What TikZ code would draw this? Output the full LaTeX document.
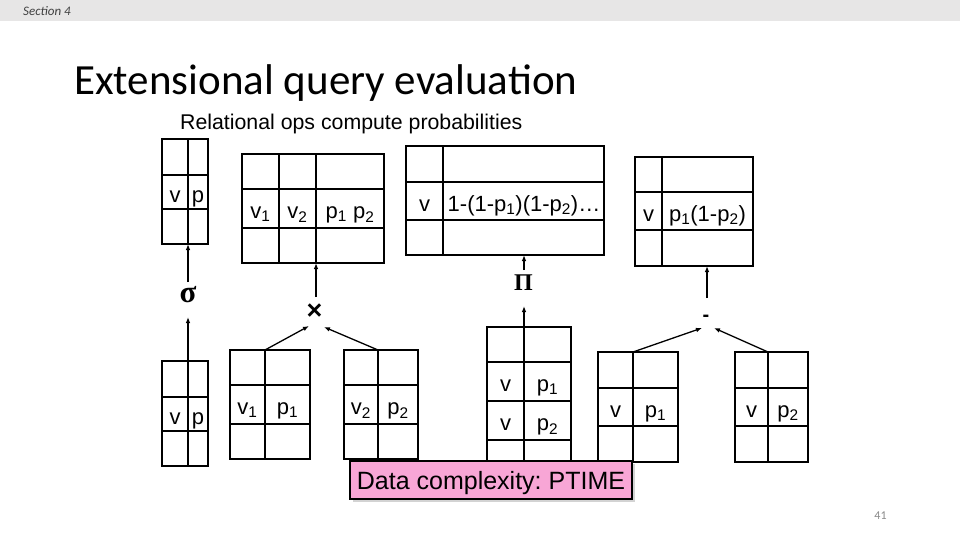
\documentclass[tikz,border=0pt]{standalone}
\usepackage{fontspec}
\setmainfont{Liberation Sans}
\newfontfamily\titlefont{Carlito}
\newfontfamily\grfont{Liberation Serif}
\usetikzlibrary{arrows.meta,shadows}
\definecolor{barGray}{HTML}{E7E6E6}
\definecolor{pinkBox}{HTML}{F8A6D6}
\definecolor{numGray}{HTML}{8A8A8A}
\definecolor{secGray}{HTML}{404040}
\tikzset{
  tblline/.style={line width=2.4pt, line join=miter},
  cell/.style={anchor=base, inner sep=0pt, font=\fontsize{22}{22}\selectfont},
  arr/.style={line width=1.3pt, -{Latex[length=6pt,width=4.6pt]}},
  opsym/.style={inner sep=0pt, anchor=center},
  pinkbox/.style={draw=black, line width=1.3pt, fill=pinkBox, inner sep=0pt,
     minimum width=282pt, minimum height=38pt, text height=18pt, text depth=0pt,
     font=\fontsize{25}{25}\selectfont,
     drop shadow={shadow xshift=2.5pt, shadow yshift=-3pt, opacity=0.35, fill=gray}},
}
\newcommand{\sub}[1]{\textsubscript{#1}}
\frenchspacing
\begin{document}
\begin{tikzpicture}[x=1pt,y=-1pt]
\useasboundingbox (0,0) rectangle (960,540);
\fill[barGray] (0,0) rectangle (960,21);
\node[anchor=base west, inner sep=0pt, text=secGray, font=\titlefont\itshape\fontsize{13}{13}\selectfont] (sec) at (23,15.5) {Section 4};
\node[anchor=base west, inner sep=0pt, font=\titlefont\fontsize{43}{43}\selectfont] (title) at (74,95) {Extensional query evaluation};
\node[anchor=base west, inner sep=0pt, font=\fontsize{21.3}{21.3}\selectfont] (subt) at (180,130) {Relational ops compute probabilities};
\node[anchor=base, inner sep=0pt, text=numGray, font=\titlefont\fontsize{12}{12}\selectfont] (pnum) at (880.5,519) {41};

% ---- top tables ----
% T1 sigma result
\draw[tblline] (162,139) rectangle (208,244);
\draw[tblline] (188,139)--(188,244) (162,175)--(208,175) (162,209)--(208,209);
\node[cell] (t1a) at (175,202) {v};
\node[cell] (t1b) at (198,202) {p};
% T2 product result
\draw[tblline] (242,154) rectangle (384,263);
\draw[tblline] (279,154)--(279,263) (316,154)--(316,263) (242,189)--(384,189) (242,228)--(384,228);
\node[cell] (t2a) at (260.5,218.5) {v\sub{1}};
\node[cell] (t2b) at (297.5,218.5) {v\sub{2}};
\node[cell] (t2c) at (350,218.5) {p\sub{1} p\sub{2}};
% T3 projection result
\draw[tblline] (406,146) rectangle (604,255);
\draw[tblline] (443,146)--(443,255) (406,182)--(604,182) (406,220)--(604,220);
\node[cell] (t3a) at (424.5,211) {v};
\node[cell] (t3b) at (524,211) {1-(1-p\sub{1})(1-p\sub{2})…};
% T4 difference result
\draw[tblline] (635,157) rectangle (753,266);
\draw[tblline] (662,157)--(662,266) (635,192)--(753,192) (635,230)--(753,230);
\node[cell] (t4a) at (648.5,221) {v};
\node[cell] (t4b) at (707.5,221) {p\sub{1}(1-p\sub{2})};

% ---- bottom tables ----
% B1
\draw[tblline] (162,361) rectangle (208,466);
\draw[tblline] (188,361)--(188,466) (162,397)--(208,397) (162,431)--(208,431);
\node[cell] (b1a) at (175,424) {v};
\node[cell] (b1b) at (198,424) {p};
% B2
\draw[tblline] (230,350) rectangle (310,459);
\draw[tblline] (265,350)--(265,459) (230,385)--(310,385) (230,424)--(310,424);
\node[cell] (b2a) at (247.5,414.5) {v\sub{1}};
\node[cell] (b2b) at (287.5,414.5) {p\sub{1}};
% B3
\draw[tblline] (344,350) rectangle (418,459);
\draw[tblline] (378,350)--(378,459) (344,385)--(418,385) (344,424)--(418,424);
\node[cell] (b3a) at (361,414.5) {v\sub{2}};
\node[cell] (b3b) at (398,414.5) {p\sub{2}};
% B4
\draw[tblline] (487,327) rectangle (571,478);
\draw[tblline] (524,327)--(524,478) (487,362)--(571,362) (487,401)--(571,401) (487,440)--(571,440);
\node[cell] (b4a) at (505.5,391.5) {v};
\node[cell] (b4b) at (547.5,391.5) {p\sub{1}};
\node[cell] (b4c) at (505.5,430.5) {v};
\node[cell] (b4d) at (547.5,430.5) {p\sub{2}};
% B5
\draw[tblline] (598,352) rectangle (678,462);
\draw[tblline] (633,352)--(633,462) (598,388)--(678,388) (598,426)--(678,426);
\node[cell] (b5a) at (615.5,417) {v};
\node[cell] (b5b) at (655.5,417) {p\sub{1}};
% B6
\draw[tblline] (735,352) rectangle (808,462);
\draw[tblline] (768,352)--(768,462) (735,388)--(808,388) (735,426)--(808,426);
\node[cell] (b6a) at (751.5,417) {v};
\node[cell] (b6b) at (788,417) {p\sub{2}};

% ---- operators ----
\node[opsym, font=\grfont\bfseries\fontsize{31}{31}\selectfont] (sig) at (188,295) {σ};
\node[opsym, font=\bfseries\fontsize{27}{27}\selectfont] (times) at (314.5,311.7) {×};
\node[opsym, font=\grfont\bfseries\fontsize{24}{24}\selectfont] (proj) at (523.5,282.5) {Π};
\node[opsym, font=\bfseries\fontsize{20}{20}\selectfont] (minus) at (706,318.3) {-};

% ---- arrow end points ----
\coordinate (b1top) at (188,361);
\coordinate (sigLo) at (188,317);
\coordinate (sigHi) at (188,282);
\coordinate (t1bot) at (188,244);
\coordinate (b2top) at (265,350);
\coordinate (b3top) at (378,350);
\coordinate (timesL) at (309,326);
\coordinate (timesR) at (324,327);
\coordinate (timesHi) at (316,297);
\coordinate (t2bot) at (316,263);
\coordinate (b4top) at (524,327);
\coordinate (projLo) at (524,306);
\coordinate (projHi) at (524,270);
\coordinate (t3bot) at (524,255);
\coordinate (b5top) at (633,352);
\coordinate (b6top) at (768,352);
\coordinate (minusL) at (702,328);
\coordinate (minusR) at (714,328);
\coordinate (minusHi) at (707,298);
\coordinate (t4bot) at (707,266);

\draw[arr] (b1top) -- (sigLo);
\draw[arr] (sigHi) -- (t1bot);
\draw[arr] (b2top) -- (timesL);
\draw[arr] (b3top) -- (timesR);
\draw[arr] (timesHi) -- (t2bot);
\draw[arr] (b4top) -- (projLo);
\draw[arr] (projHi) -- (t3bot);
\draw[arr] (b5top) -- (minusL);
\draw[arr] (b6top) -- (minusR);
\draw[arr] (minusHi) -- (t4bot);

% ---- note ----
\node[pinkbox] (dc) at (491,480) {Data complexity: PTIME};
\end{tikzpicture}
\end{document}
